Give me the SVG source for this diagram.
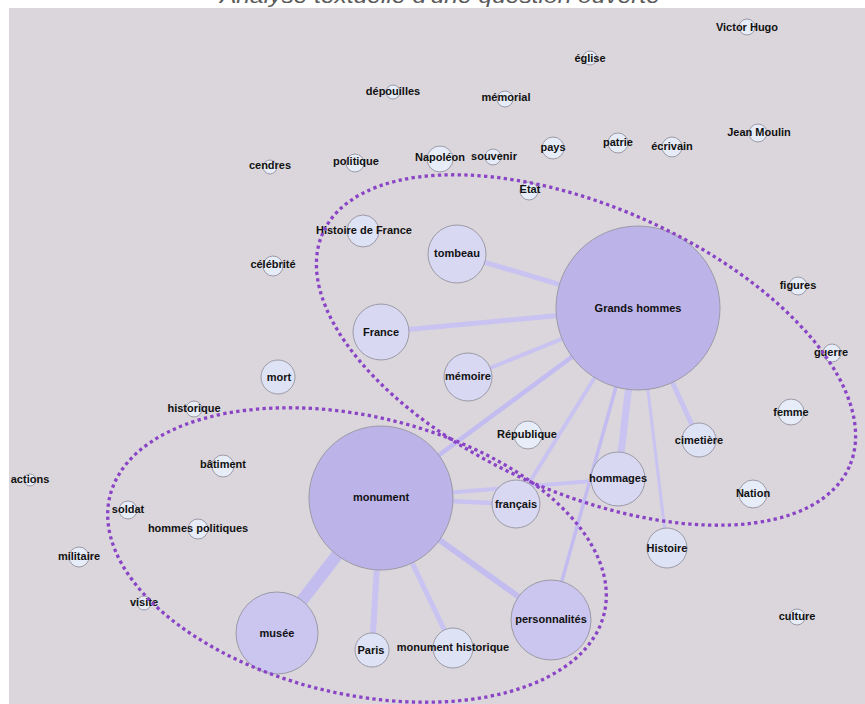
<svg xmlns="http://www.w3.org/2000/svg" width="865" height="704" viewBox="0 0 865 704">
<style>
.bg{fill:#dbd6dc}
.title{font-family:"Liberation Sans",Arial,sans-serif;font-style:italic;font-size:20px;fill:#5a5a5a}
.n circle{stroke:#9c9aa6;stroke-width:1}
.l1 circle{fill:#bcb3e9}
.l2 circle{fill:#cac6ef}
.l3 circle{fill:#d8d8f3}
.l4 circle{fill:#dee2f5}
.l5 circle{fill:#e7edf8}
.n text{font-family:"Liberation Sans",Arial,sans-serif;font-weight:bold;font-size:11px;fill:#111;text-anchor:middle}
.e line{stroke:#c8c3f1;stroke-linecap:butt}
.cl{fill:none;stroke:#8a44c6;stroke-width:3.3;stroke-dasharray:3.3 3.3}
</style>
<rect x="0" y="0" width="865" height="704" fill="#ffffff"/>
<rect class="bg" x="9" y="8" width="856" height="696"/>
<text class="title" x="440" y="3" textLength="440" lengthAdjust="spacingAndGlyphs" text-anchor="middle">Analyse textuelle d'une question ouverte</text>
<g id="connectors" class="e">
<line x1="638" y1="308" x2="457" y2="254" stroke-width="5"/>
<line x1="638" y1="308" x2="381" y2="332" stroke-width="5"/>
<line x1="638" y1="308" x2="468" y2="377" stroke-width="4"/>
<line x1="638" y1="308" x2="381" y2="498" stroke-width="4.5" style="stroke:#c2bcf0"/>
<line x1="638" y1="308" x2="516" y2="504" stroke-width="4"/>
<line x1="638" y1="308" x2="551" y2="620" stroke-width="3.5" style="stroke:#c2bcf0"/>
<line x1="638" y1="308" x2="618" y2="479" stroke-width="7"/>
<line x1="638" y1="308" x2="667" y2="548" stroke-width="3"/>
<line x1="638" y1="308" x2="699" y2="440" stroke-width="5"/>
<line x1="381" y1="498" x2="618" y2="479" stroke-width="4"/>
<line x1="381" y1="498" x2="516" y2="504" stroke-width="4.5"/>
<line x1="381" y1="498" x2="277" y2="633" stroke-width="12" style="stroke:#c3bdef"/>
<line x1="381" y1="498" x2="372" y2="650" stroke-width="6"/>
<line x1="381" y1="498" x2="453" y2="648" stroke-width="5"/>
<line x1="381" y1="498" x2="551" y2="620" stroke-width="6" style="stroke:#c3bdef"/>
</g>
<g id="n-grands-hommes" class="n l1"><circle cx="638" cy="308" r="82"/><text x="638" y="312">Grands hommes</text></g>
<g id="n-monument" class="n l1"><circle cx="381" cy="498" r="72"/><text x="381" y="501">monument</text></g>
<g id="n-musee" class="n l2"><circle cx="277" cy="633" r="41"/><text x="277" y="637">musée</text></g>
<g id="n-personnalites" class="n l2"><circle cx="551" cy="620" r="40"/><text x="551" y="623">personnalités</text></g>
<g id="n-tombeau" class="n l3"><circle cx="457" cy="254" r="29"/><text x="457" y="257">tombeau</text></g>
<g id="n-france" class="n l3"><circle cx="381" cy="332" r="28"/><text x="381" y="336">France</text></g>
<g id="n-memoire" class="n l3"><circle cx="468" cy="377" r="24"/><text x="468" y="380">mémoire</text></g>
<g id="n-hommages" class="n l3"><circle cx="618" cy="479" r="27"/><text x="618" y="482">hommages</text></g>
<g id="n-francais" class="n l3"><circle cx="516" cy="504" r="24"/><text x="516" y="508">français</text></g>
<g id="n-histoire" class="n l4"><circle cx="667" cy="548" r="20"/><text x="667" y="552">Histoire</text></g>
<g id="n-cimetiere" class="n l4"><circle cx="699" cy="440" r="17"/><text x="699" y="444">cimetière</text></g>
<g id="n-paris" class="n l4"><circle cx="372" cy="650" r="17"/><text x="371" y="654">Paris</text></g>
<g id="n-monument-historique" class="n l4"><circle cx="453" cy="648" r="20"/><text x="453" y="651">monument historique</text></g>
<g id="n-histoire-de-france" class="n l4"><circle cx="363" cy="231" r="16"/><text x="364" y="234">Histoire de France</text></g>
<g id="n-mort" class="n l4"><circle cx="278" cy="377" r="17"/><text x="279" y="381">mort</text></g>
<g id="n-republique" class="n l5"><circle cx="528" cy="435" r="14"/><text x="527" y="438">République</text></g>
<g id="n-nation" class="n l5"><circle cx="753" cy="494" r="14"/><text x="753" y="497">Nation</text></g>
<g id="n-femme" class="n l5"><circle cx="791" cy="412" r="13"/><text x="791" y="416">femme</text></g>
<g id="n-napoleon" class="n l5"><circle cx="440" cy="159" r="13"/><text x="440" y="161">Napoléon</text></g>
<g id="n-figures" class="n l5"><circle cx="798" cy="286" r="9"/><text x="798" y="289">figures</text></g>
<g id="n-guerre" class="n l5"><circle cx="832" cy="353" r="9"/><text x="831" y="356">guerre</text></g>
<g id="n-culture" class="n l5"><circle cx="797" cy="617" r="8"/><text x="797" y="620">culture</text></g>
<g id="n-batiment" class="n l5"><circle cx="223" cy="466" r="11"/><text x="223" y="468">bâtiment</text></g>
<g id="n-hommes-politiques" class="n l5"><circle cx="198" cy="529" r="10"/><text x="198" y="532">hommes politiques</text></g>
<g id="n-soldat" class="n l5"><circle cx="128" cy="510" r="9"/><text x="128" y="513">soldat</text></g>
<g id="n-militaire" class="n l5"><circle cx="79" cy="557" r="10"/><text x="79" y="560">militaire</text></g>
<g id="n-visite" class="n l5"><circle cx="144" cy="603" r="7"/><text x="144" y="606">visite</text></g>
<g id="n-actions" class="n l5"><circle cx="30" cy="480" r="6"/><text x="30" y="483">actions</text></g>
<g id="n-historique" class="n l5"><circle cx="194" cy="409" r="8"/><text x="194" y="412">historique</text></g>
<g id="n-celebrite" class="n l5"><circle cx="273" cy="266" r="10"/><text x="273" y="268">célébrité</text></g>
<g id="n-cendres" class="n l5"><circle cx="270" cy="167" r="7"/><text x="270" y="169">cendres</text></g>
<g id="n-politique" class="n l5"><circle cx="355" cy="163" r="9"/><text x="356" y="165">politique</text></g>
<g id="n-souvenir" class="n l5"><circle cx="493" cy="157" r="8"/><text x="494" y="160">souvenir</text></g>
<g id="n-pays" class="n l5"><circle cx="553" cy="148" r="11"/><text x="553" y="151">pays</text></g>
<g id="n-patrie" class="n l5"><circle cx="618" cy="143" r="10"/><text x="618" y="146">patrie</text></g>
<g id="n-ecrivain" class="n l5"><circle cx="672" cy="147" r="10"/><text x="672" y="150">écrivain</text></g>
<g id="n-jean-moulin" class="n l5"><circle cx="758" cy="133" r="9"/><text x="759" y="136">Jean Moulin</text></g>
<g id="n-victor-hugo" class="n l5"><circle cx="747" cy="27" r="8"/><text x="747" y="31">Victor Hugo</text></g>
<g id="n-eglise" class="n l5"><circle cx="590" cy="58" r="7"/><text x="590" y="62">église</text></g>
<g id="n-depouilles" class="n l5"><circle cx="393" cy="92" r="7"/><text x="393" y="95">dépouilles</text></g>
<g id="n-memorial" class="n l5"><circle cx="505" cy="99" r="8"/><text x="506" y="101">mémorial</text></g>
<g id="n-etat" class="n l5"><circle cx="529" cy="191" r="9"/><text x="530" y="193">Etat</text></g>
<g id="clusters">
<ellipse class="cl" cx="586" cy="350" rx="288" ry="143" transform="rotate(23.9 586 350)"/>
<ellipse class="cl" cx="357" cy="555" rx="254" ry="139" transform="rotate(13.2 357 555)"/>
</g>
</svg>
